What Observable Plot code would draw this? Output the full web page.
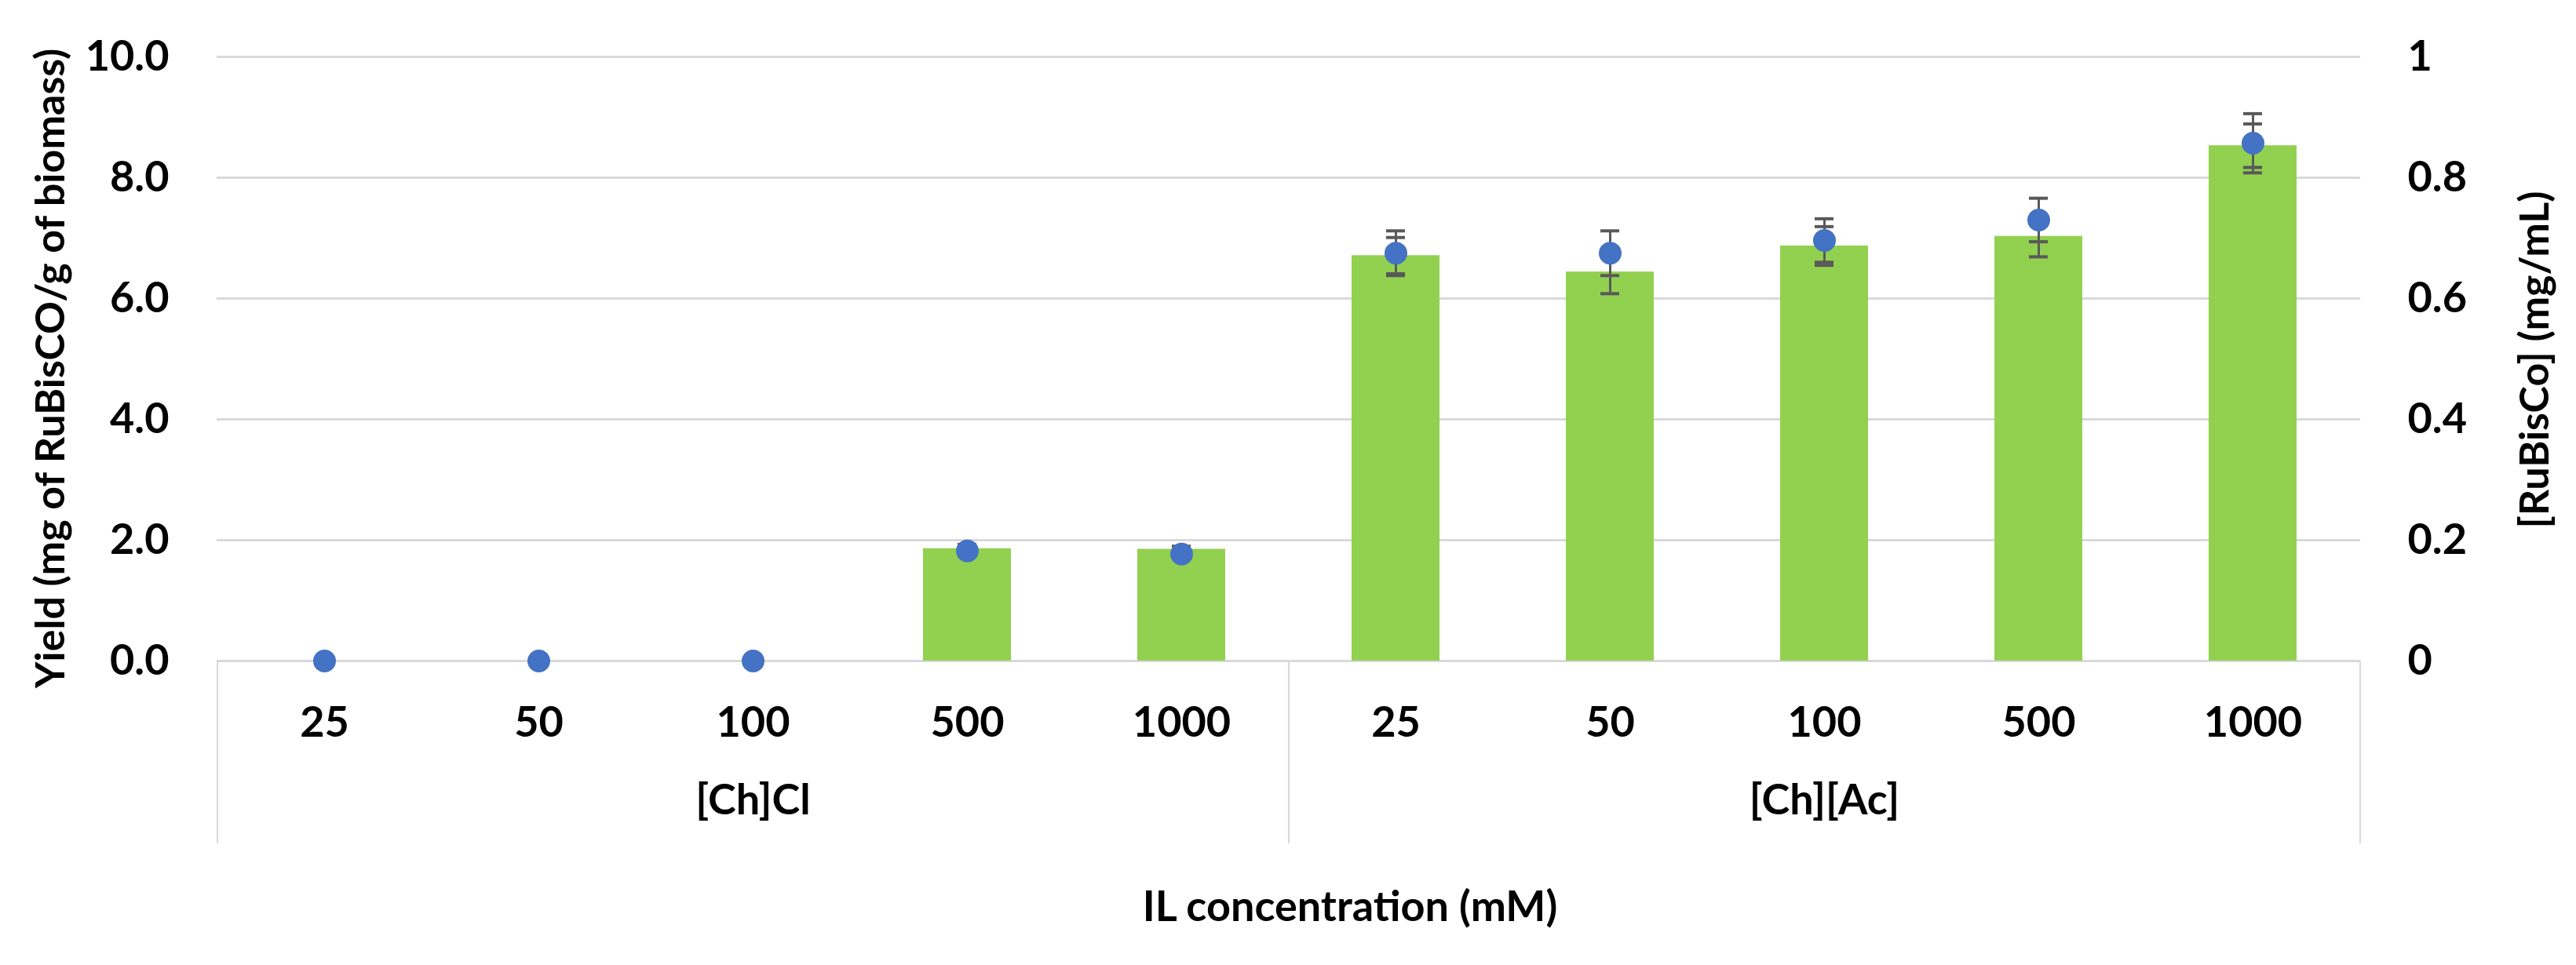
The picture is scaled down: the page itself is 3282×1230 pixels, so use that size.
<!DOCTYPE html>
<html>
<head>
<meta charset="utf-8">
<script src="https://cdn.jsdelivr.net/npm/d3@7"></script>
<script src="https://cdn.jsdelivr.net/npm/@observablehq/plot@0.6"></script>
<style>
  html, body { margin: 0; padding: 0; background: #fff; }
</style>
</head>
<body>
<div id="chart"></div>
<script>
// ---- data ----
const groups = ["[Ch]Cl", "[Ch][Ac]"];
const concLabels = ["25", "50", "100", "500", "1000"];
// Yield (mg of RuBisCO / g of biomass) — bars
const yieldCl = [0, 0, 0, 1.86, 1.85];
const yieldAc = [6.71, 6.44, 6.87, 7.03, 8.53];
const yieldErrCl = [0, 0, 0, 0.07, 0.05];
const yieldErrAc = [0.30, 0.36, 0.32, 0.34, 0.36];
// [RuBisCo] (mg/mL) — dots (right axis)
const concCl = [0, 0, 0, 0.182, 0.177];
const concAc = [0.675, 0.675, 0.696, 0.730, 0.857];
const concErrCl = [0, 0, 0, 0.004, 0.003];
const concErrAc = [0.037, 0.037, 0.036, 0.036, 0.049];
const leftTicks = [0, 2, 4, 6, 8, 10];
const rightTicks = [0, 0.2, 0.4, 0.6, 0.8, 1];
const axisRatio = 10; // left max / right max

// ---- table ----
const yieldAll = [yieldCl, yieldAc], yErrAll = [yieldErrCl, yieldErrAc];
const concAll = [concCl, concAc], cErrAll = [concErrCl, concErrAc];
const rows = [];
groups.forEach((g, gi) => concLabels.forEach((c, ci) => rows.push({
  key: g + "|" + c, group: g, conc: c,
  yield: yieldAll[gi][ci], yErr: yErrAll[gi][ci],
  rub: concAll[gi][ci], rErr: cErrAll[gi][ci]
})));
const keys = rows.map(d => d.key);

// ---- layout ----
const W = 3282, H = 1230;
const mL = 276, mR = 275, mT = 72, mB = 388;
const plotH = H - mT - mB;
const step = (W - mL - mR) / keys.length;
const boxDepth = 233;
const font = "Lato, 'Open Sans', sans-serif";
const grid = "#D9D9D9", green = "#92D050", blue = "#4472C4", errC = "#595959";

const groupStarts = groups.map(g => g + "|" + concLabels[0]);
const lastKey = [keys[keys.length - 1]];
const groupCenters = groups.map(g => ({key: g + "|" + concLabels[2], label: g}));

const chart = Plot.plot({
  width: W, height: H,
  marginLeft: mL, marginRight: mR, marginTop: mT, marginBottom: mB,
  style: {fontFamily: font, fontWeight: "bold", fontSize: "54px", color: "#000", background: "#fff"},
  x: {type: "band", domain: keys, paddingInner: 0.59, paddingOuter: 0.295},
  y: {domain: [0, 10]},
  marks: [
    Plot.ruleY(leftTicks, {stroke: grid, strokeWidth: 3}),
    Plot.ruleX(groupStarts, {x: d => d, dx: -step / 2, insetTop: plotH, insetBottom: -boxDepth, stroke: grid, strokeWidth: 2}),
    Plot.ruleX(lastKey, {x: d => d, dx: step / 2, insetTop: plotH, insetBottom: -boxDepth, stroke: grid, strokeWidth: 2}),
    Plot.barY(rows, {x: "key", y: "yield", fill: green}),
    // bar error bars
    Plot.ruleX(rows.filter(d => d.yErr > 0), {x: "key", y1: d => d.yield - d.yErr, y2: d => d.yield + d.yErr, stroke: errC, strokeWidth: 3}),
    Plot.tickY(rows.filter(d => d.yErr > 0), {x: "key", y: d => d.yield + d.yErr, stroke: errC, strokeWidth: 4, inset: 44}),
    Plot.tickY(rows.filter(d => d.yErr > 0), {x: "key", y: d => d.yield - d.yErr, stroke: errC, strokeWidth: 4, inset: 44}),
    // dot error bars
    Plot.ruleX(rows.filter(d => d.rErr > 0), {x: "key", y1: d => (d.rub - d.rErr) * axisRatio, y2: d => (d.rub + d.rErr) * axisRatio, stroke: errC, strokeWidth: 3}),
    Plot.tickY(rows.filter(d => d.rErr > 0), {x: "key", y: d => (d.rub + d.rErr) * axisRatio, stroke: errC, strokeWidth: 4, inset: 44}),
    Plot.tickY(rows.filter(d => d.rErr > 0), {x: "key", y: d => (d.rub - d.rErr) * axisRatio, stroke: errC, strokeWidth: 4, inset: 44}),
    Plot.dot(rows, {x: "key", y: d => d.rub * axisRatio, r: 14.5, fill: blue}),
    // axes
    Plot.axisY(leftTicks, {anchor: "left", tickSize: 0, tickPadding: 61, tickFormat: d3.format(".1f"), label: null}),
    Plot.axisY(leftTicks, {anchor: "right", tickSize: 0, tickPadding: 60, tickFormat: d => String(rightTicks[leftTicks.indexOf(d)]), label: null}),
    Plot.axisX({tickSize: 0, tickPadding: 58, tickFormat: d => d.split("|")[1], label: null}),
    // group labels
    Plot.text(groupCenters, {x: "key", text: "label", frameAnchor: "bottom", dy: 195, fontSize: 54}),
    // axis titles
    Plot.text(["IL concentration (mM)"], {frameAnchor: "bottom", text: d => d, dx: 78, dy: 331, fontSize: 54}),
    Plot.text(["Yield (mg of RuBisCO/g of biomass)"], {frameAnchor: "left", textAnchor: "middle", text: d => d, rotate: -90, dx: -211, dy: 12, fontSize: 52}),
    Plot.text(["[RuBisCo] (mg/mL)"], {frameAnchor: "right", textAnchor: "middle", text: d => d, rotate: -90, dx: 223, dy: 1, fontSize: 52})
  ]
});
document.getElementById("chart").appendChild(chart);
</script>
</body>
</html>
